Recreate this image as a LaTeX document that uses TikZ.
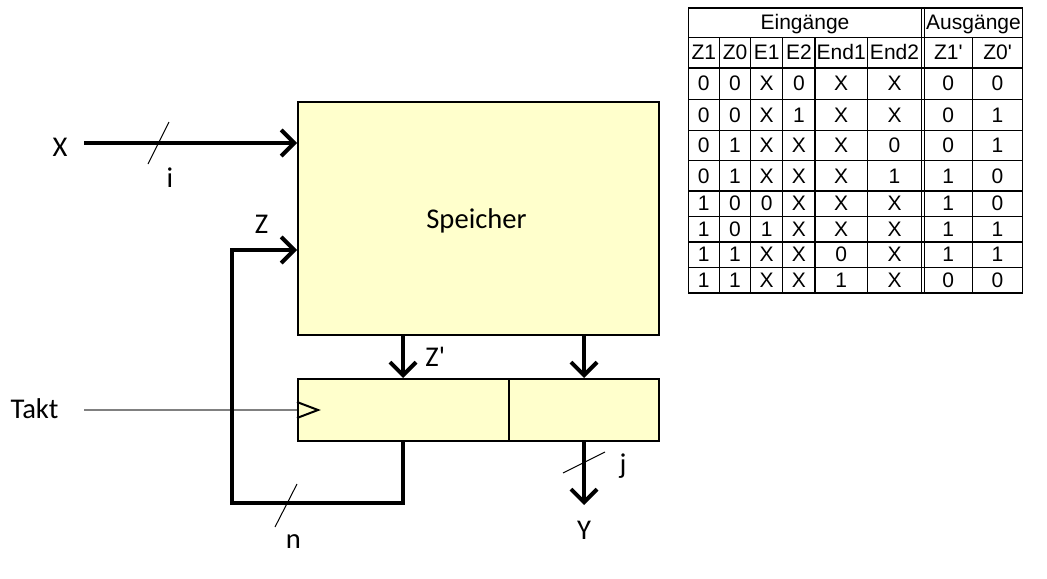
\documentclass[tikz,border=0pt]{standalone}
\usepackage{fontspec}
\setmainfont{Carlito}
\newfontfamily\tabfont{Liberation Sans}
\usetikzlibrary{arrows.meta,calc}
\definecolor{boxfill}{HTML}{FFFFCC}
\definecolor{taktgray}{HTML}{808080}
\begin{document}
\begin{tikzpicture}[x=0.5pt,y=-0.5pt,
  box/.style={draw=black,line width=1pt,fill=boxfill,inner sep=0pt,anchor=north west},
  bus/.style={line width=2pt,-{Straight Barb[length=6.5pt,width=13pt]}},
  slash/.style={line width=0.5pt},
  lab/.style={font=\fontsize{14.3}{17}\selectfont,inner sep=0pt,anchor=base},
  cell/.style={font=\tabfont\fontsize{10.5}{12}\selectfont,inner sep=0pt,text height=0.716em,text depth=0pt,anchor=center},
  gridline/.style={line width=0.6pt,draw=black}]
\useasboundingbox (0,0) rectangle (1047,578);

% ---------- Speicher ----------
\node[box,minimum width=180.5pt,minimum height=116.5pt] (sp) at (297,101) {};
\node[lab] (sptext) at (476.5,228) {Speicher};

% ---------- Register ----------
\node[box,minimum width=180.5pt,minimum height=31pt] (reg) at (297,378) {};
\draw[line width=0.6pt] ([xshift=106pt]reg.north west) -- ([xshift=106pt]reg.south west);
\draw[line width=1pt,line join=miter] (297,402) -- (318,410) -- (297,418);

% ---------- Takt ----------
\node[lab] (takt) at (34.5,418) {Takt};
\coordinate (taktstart) at (84,410);
\draw[taktgray,line width=0.6pt] (taktstart) -- (taktstart -| reg.west);

% ---------- X input ----------
\node[lab] (X) at (60,156) {X};
\coordinate (xs) at (84,143);
\draw[bus] (xs) -- (xs -| sp.west);
\draw[slash] (148,164) -- (169,122);
\node[lab] (i) at (170,187) {i};

% ---------- feedback Z ----------
\coordinate (zin) at (297,250);
\coordinate (fbl) at (232,503);
\draw[bus] ([xshift=53pt]reg.south west) |- (fbl) |- (sp.west |- zin);
\node[lab] (Z) at (261.5,233) {Z};
\draw[slash] (275,527) -- (297,484);
\node[lab] (n) at (293.5,548) {n};

% ---------- Z' and output ----------
\draw[bus] ([xshift=53pt]sp.south west) -- ([xshift=53pt]reg.north west);
\node[lab,anchor=base west] (Zp) at (425,366) {Z\textquotesingle};
\draw[bus] ([xshift=143.5pt]sp.south west) -- ([xshift=143.5pt]reg.north west);
\coordinate (yend) at (584,505);
\draw[bus] ([xshift=143.5pt]reg.south west) -- (yend);
\node[lab] (Y) at (584,539) {Y};
\draw[slash] (563,473) -- (605,452);
\node[lab] (j) at (623,473) {j};

% ---------- Table ----------
\draw[gridline] (688.3,8) rectangle (1022.7,293);
\foreach \yy in {37.5,68,99.3,130.5,160.7,191,216.5,242,267.5}
  \draw[gridline] (688.3,\yy) -- (1022.7,\yy);
\foreach \xx in {719.3,750.7,782.7,815,867.3,972.3}
  \draw[gridline] (\xx,37.5) -- (\xx,293);
\foreach \xx in {921.7,924.3}
  \draw[gridline] (\xx,8) -- (\xx,293);

\node[cell] (hEin) at (805,22.75) {Eingänge};
\node[cell] (hAus) at (973.5,22.75) {Ausgänge};

\foreach \v [count=\c] in {Z1,Z0,E1,E2,End1,End2,Z1\textquotesingle,Z0\textquotesingle}{
  \pgfmathsetmacro{\cx}{{703.8,735,766.7,798.85,841.15,894.5,948.3,997.5}[\c-1]}
  \node[cell] (h-\c) at (\cx,52.75) {\v};
}

\foreach \row [count=\r] in {
  {0,0,X,0,X,X,0,0},
  {0,0,X,1,X,X,0,1},
  {0,1,X,X,X,0,0,1},
  {0,1,X,X,X,1,1,0},
  {1,0,0,X,X,X,1,0},
  {1,0,1,X,X,X,1,1},
  {1,1,X,X,0,X,1,1},
  {1,1,X,X,1,X,0,0}}{
  \pgfmathsetmacro{\ry}{{83.65,114.9,145.6,175.85,203.75,229.25,254.75,280.25}[\r-1]}
  \foreach \v [count=\c] in \row {
    \pgfmathsetmacro{\cx}{{703.8,735,766.7,798.85,841.15,894.5,948.3,997.5}[\c-1]}
    \node[cell] (t-\r-\c) at (\cx,\ry) {\v};
  }
}
\end{tikzpicture}
\end{document}
